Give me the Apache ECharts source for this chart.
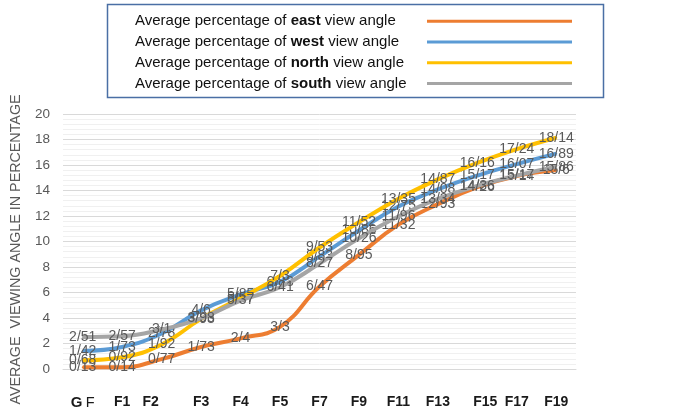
<!DOCTYPE html>
<html><head><meta charset="utf-8">
<script src="https://cdn.jsdelivr.net/npm/echarts@6/dist/echarts.min.js"></script>
<style>html,body{margin:0;padding:0;background:#fff}#c{width:688px;height:417px}</style>
</head><body><div id="c"></div>
<script>
const categories = ['G F','F1','F2','F3','F4','F5','F7','F9','F11','F13','F15','F17','F19'];
const east  = [0.13,0.14,0.77,1.73,2.4,3.3,6.47,8.95,11.32,12.93,14.26,15.14,15.6];
const west  = [1.42,1.73,2.78,4.6,5.85,6.83,8.83,10.86,12.75,14.08,15.17,16.07,16.89];
const north = [0.68,0.92,1.92,3.93,5.57,7.3,9.53,11.52,13.35,14.87,16.16,17.24,18.14];
const south = [2.51,2.57,3.1,3.98,5.37,6.41,8.27,10.26,11.96,13.34,14.36,15.17,15.86];
const seriesNames = [
  'Average percentage of east view angle',
  'Average percentage of west view angle',
  'Average percentage of north view angle',
  'Average percentage of south view angle'
];
const seriesColors = ['#ED7D31','#5B9BD5','#FFC000','#A5A5A5'];
const seriesData = [east, west, north, south];

const FONT = 'Liberation Sans';
const chart = echarts.init(document.getElementById('c'), null, {renderer:'canvas'});

function fmtVal(p){ return String(p.value).replace('.', '/'); }

const series = seriesData.map((d,i)=>({
  name: seriesNames[i],
  type: 'line',
  data: d,
  smooth: 0.45,
  color: seriesColors[i],
  symbol: 'circle',
  symbolSize: 2,
  lineStyle: {width: 4, color: seriesColors[i]},
  itemStyle: {color: seriesColors[i]},
  label: {show: true, position: 'inside', formatter: fmtVal, color: '#595959', fontSize: 14, fontFamily: FONT},
  emphasis: {disabled: true},
  z: 2 + i
}));

const xLabelRich = {
  g: {fontWeight: 'bold', fontSize: 15, color: '#1a1a1a', fontFamily: FONT},
  f: {fontWeight: 'normal', fontSize: 14.5, color: '#1a1a1a', fontFamily: FONT},
  b: {fontWeight: 'bold', fontSize: 14, color: '#1a1a1a', fontFamily: FONT},
  l: {fontWeight: 'bold', fontSize: 14, color: '#1a1a1a', fontFamily: FONT, padding: [0, 22, 6, 0]},
  r: {fontWeight: 'bold', fontSize: 14, color: '#1a1a1a', fontFamily: FONT, padding: [0, 0, 0, 16]}
};

chart.setOption({
  backgroundColor: '#fff',
  animation: false,
  grid: {left: 63, right: 112, top: 114, bottom: 48, containLabel: false},
  graphic: [{
    type: 'rect', shape: {x: 107.5, y: 4.5, width: 496, height: 93},
    style: {fill: 'none', stroke: '#4A6FA5', lineWidth: 1.5}, silent: true
  }],
  legend: [{
    orient: 'vertical', left: 130, top: 11, padding: 0, itemGap: 0,
    itemWidth: 0, itemHeight: 0, icon: 'rect',
    data: seriesNames,
    formatter: name => {
      const m = name.match(/^(.* of )(\w+)( view angle)$/);
      return '{a|' + m[1] + '}{b|' + m[2] + '}{a|' + m[3] + '}';
    },
    textStyle: {
      fontSize: 15, lineHeight: 20.7, color: '#111', fontFamily: FONT,
      rich: {
        a: {fontSize: 15, color: '#111', fontFamily: FONT, lineHeight: 20.7},
        b: {fontSize: 15, color: '#111', fontWeight: 'bold', fontFamily: FONT, lineHeight: 20.7}
      }
    }
  }, {
    orient: 'vertical', left: 427, top: 11, padding: 0, itemGap: 0,
    itemWidth: 145, itemHeight: 3, icon: 'rect',
    data: seriesNames,
    formatter: () => ' ',
    textStyle: {fontSize: 15, lineHeight: 20.7, fontFamily: FONT}
  }],
  xAxis: {
    type: 'category', data: categories, boundaryGap: true,
    axisLine: {show: true, lineStyle: {color: '#D9D9D9', width: 1}},
    axisTick: {show: false},
    axisLabel: {
      interval: 0, margin: 26,
      formatter: v => {
        if (v === 'G F') return '{g|G} {f|F}';
        if (v === 'F2') return '{l|' + v + '}';
        if (v === 'F15') return '{r|' + v + '}';
        return '{b|' + v + '}';
      },
      rich: xLabelRich
    },
    splitLine: {show: false}
  },
  yAxis: {
    type: 'value', min: 0, max: 20, interval: 2,
    name: 'AVERAGE  VIEWING ANGLE IN PERCENTAGE',
    nameLocation: 'middle', nameGap: 40, nameRotate: 90,
    nameTextStyle: {color: '#595959', fontSize: 14.3, fontFamily: FONT, padding: [0, 16, 0, 0]},
    axisLine: {show: false}, axisTick: {show: false},
    axisLabel: {color: '#595959', fontSize: 13.5, fontFamily: FONT, margin: 13},
    splitLine: {show: true, lineStyle: {color: '#D9D9D9', width: 1}},
    minorTick: {show: false, splitNumber: 5},
    minorSplitLine: {show: true, lineStyle: {color: '#F0F0F0', width: 1}}
  },
  series: series
});
</script></body></html>
